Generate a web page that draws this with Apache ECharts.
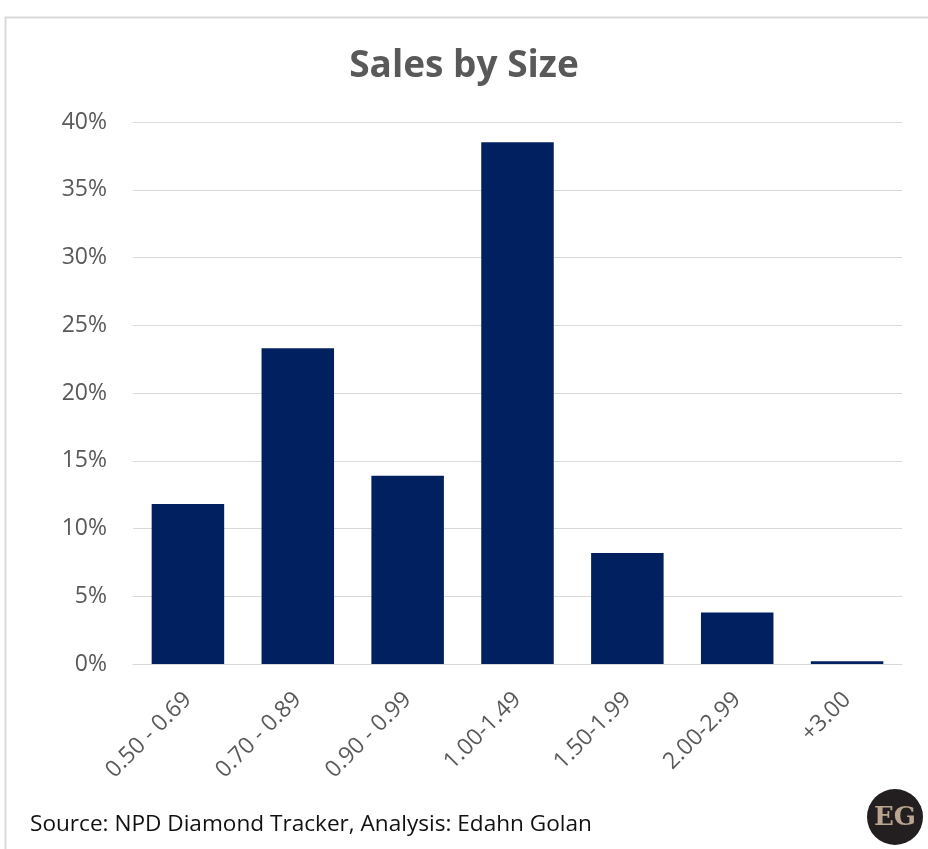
<!DOCTYPE html>
<html>
<head>
<meta charset="utf-8">
<script src="https://cdn.jsdelivr.net/npm/echarts@6/dist/echarts.min.js"></script>
<style>
    html, body { margin: 0; padding: 0; background: #fff; }
    #chart { width: 928px; height: 849px; }
</style>
</head>
<body>
<div id="chart"></div>
<script>
// sizes (carats) and share of sales
var sizes = ['0.50 - 0.69', '0.70 - 0.89', '0.90 - 0.99', '1.00-1.49', '1.50-1.99', '2.00-2.99', '+3.00'];
var shares = [11.8, 23.3, 13.9, 38.5, 8.2, 3.8, 0.2];
var yTicks = [0, 5, 10, 15, 20, 25, 30, 35, 40];

var myChart = echarts.init(document.getElementById('chart'), null, {renderer: 'canvas'});

var option = {
    backgroundColor: '#fff',
    animation: false,
    title: {
        text: 'Sales by Size',
        left: 'center',
        top: 43,
        textStyle: {
            fontFamily: 'Open Sans',
            fontSize: 37,
            fontWeight: 'bold',
            color: '#595959'
        }
    },
    grid: {
        left: 133,
        right: 26,
        top: 122,
        bottom: 185
    },
    xAxis: {
        type: 'category',
        data: sizes,
        axisLine: {lineStyle: {color: '#d9d9d9', width: 1}},
        axisTick: {show: false},
        axisLabel: {
            rotate: 45,
            margin: 32,
            color: '#595959',
            fontFamily: 'Open Sans',
            fontSize: 23
        }
    },
    yAxis: {
        type: 'value',
        min: 0,
        max: 40,
        interval: 5,
        axisLine: {show: false},
        axisTick: {show: false},
        splitLine: {lineStyle: {color: '#d9d9d9', width: 1}},
        axisLabel: {
            margin: 26,
            color: '#595959',
            fontFamily: 'Open Sans',
            fontSize: 23,
            formatter: function (v) {
                return yTicks.indexOf(v) >= 0 ? v + '%' : '';
            }
        }
    },
    series: [{
        type: 'bar',
        data: shares,
        barCategoryGap: '34%',
        itemStyle: {color: '#002060'}
    }],
    graphic: [
        {
            type: 'rect',
            shape: {x: 5.5, y: 17.5, width: 940, height: 850},
            style: {fill: 'none', stroke: '#d9d9d9', lineWidth: 2},
            silent: true
        },
        {
            type: 'text',
            left: 30,
            top: 813,
            style: {
                text: 'Source: NPD Diamond Tracker, Analysis: Edahn Golan',
                fill: '#111',
                font: '22.6px "Open Sans"'
            }
        },
        {
            type: 'circle',
            shape: {cx: 895, cy: 817, r: 28},
            style: {fill: '#231f20'}
        },
        {
            type: 'text',
            x: 895,
            y: 818,
            style: {
                text: 'EG',
                fill: '#b9a48f',
                font: 'bold 26px "DejaVu Serif"',
                align: 'center',
                verticalAlign: 'middle'
            }
        }
    ]
};

myChart.setOption(option);

window.addEventListener('resize', function () {
    myChart.resize();
});
</script>
</body>
</html>
